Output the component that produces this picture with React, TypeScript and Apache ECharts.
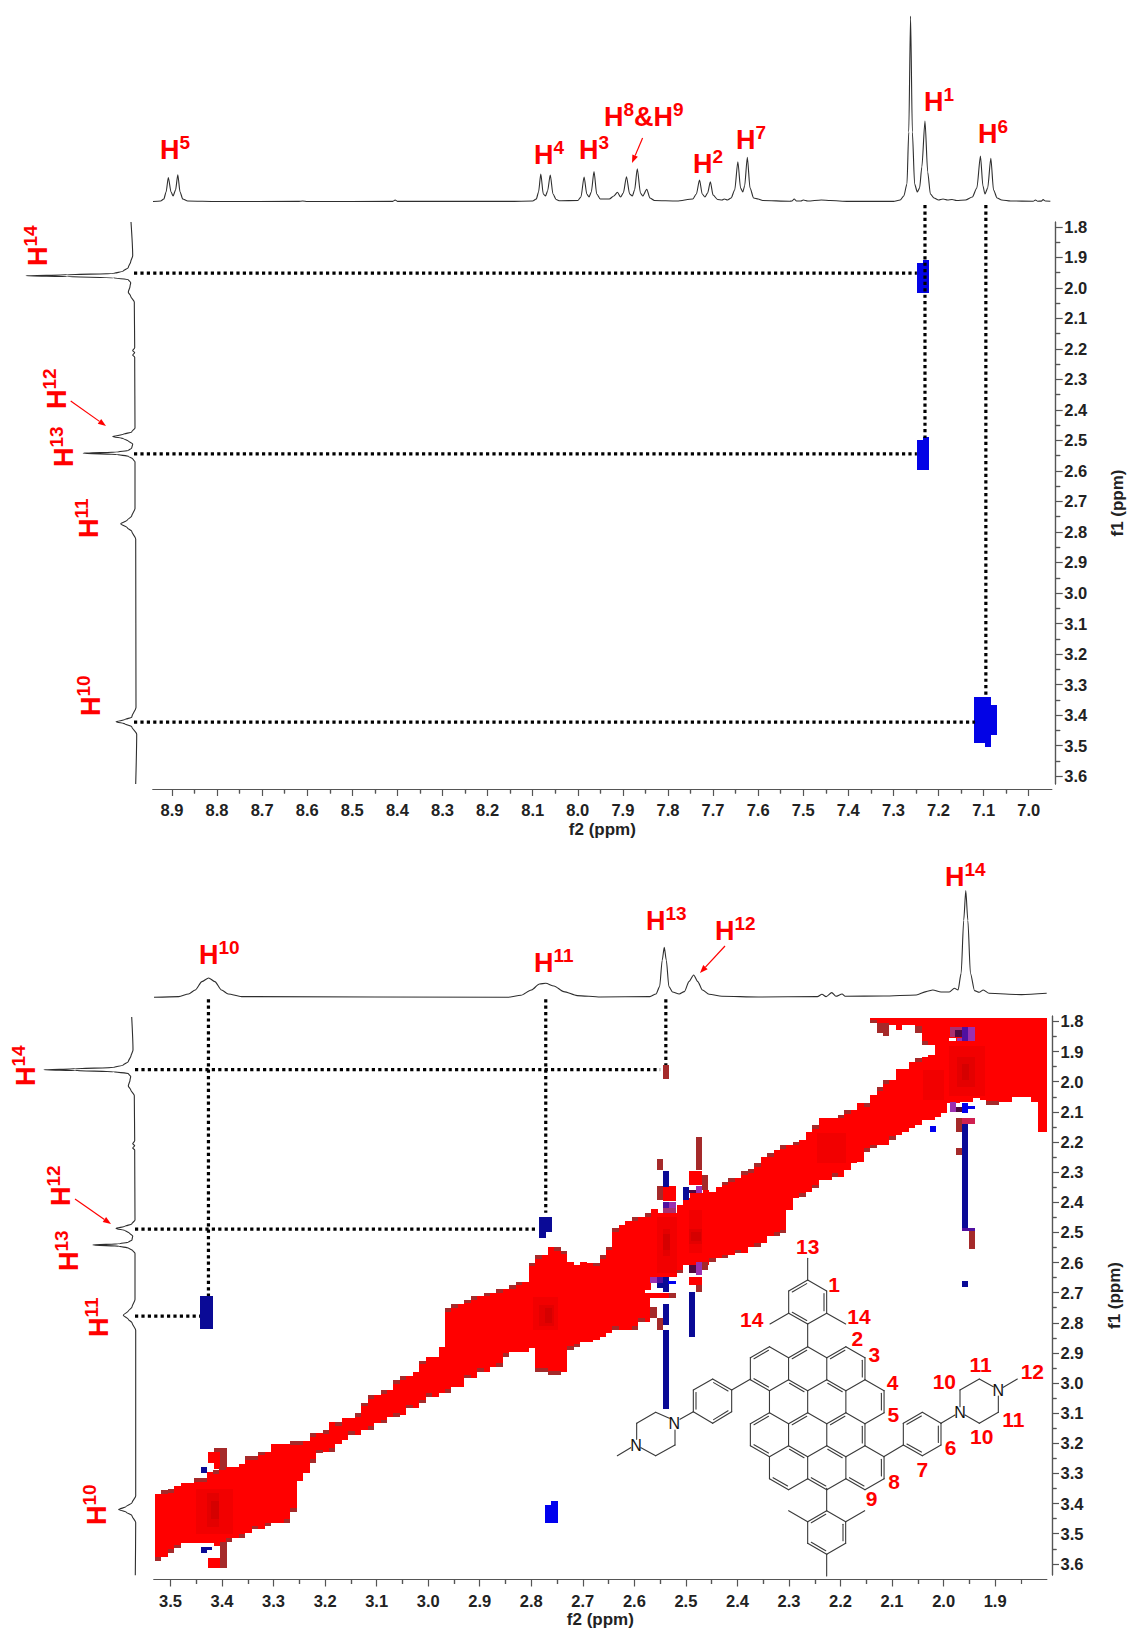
import React, { useEffect, useRef } from "react";
import * as echarts from "echarts";

// ---------- axis ticks (ppm) ----------
const topF2Ticks = [8.9, 8.8, 8.7, 8.6, 8.5, 8.4, 8.3, 8.2, 8.1, 8.0, 7.9, 7.8, 7.7, 7.6, 7.5, 7.4, 7.3, 7.2, 7.1, 7.0];
const bottomF2Ticks = [3.5, 3.4, 3.3, 3.2, 3.1, 3.0, 2.9, 2.8, 2.7, 2.6, 2.5, 2.4, 2.3, 2.2, 2.1, 2.0, 1.9];
const f1Ticks = [1.8, 1.9, 2.0, 2.1, 2.2, 2.3, 2.4, 2.5, 2.6, 2.7, 2.8, 2.9, 3.0, 3.1, 3.2, 3.3, 3.4, 3.5, 3.6];

// ---------- 1D spectra: [ppm, intensity] ----------
const topSpectrum = [
  [8.942, 0.5], [8.925, 1], [8.918, 3], [8.913, 10], [8.908, 24.5], [8.902, 10], [8.8975, 6], [8.892, 12], [8.887, 27.3], [8.882, 10], [8.876, 3], [8.865, 1],
  [8.8, 0.5], [8.62, 0.6], [8.61, 1], [8.6, 0.5], [8.41, 0.6], [8.405, 2], [8.4, 0.6], [8.15, 0.6], [8.1, 1], [8.092, 3], [8.087, 10], [8.082, 28], [8.0765, 8], [8.0715, 6], [8.067, 11], [8.061, 27], [8.055, 8], [8.048, 2.5], [8.04, 1.2],
  [8.0, 1.5], [7.993, 5], [7.986, 25], [7.98, 8], [7.975, 5], [7.97, 10], [7.964, 30.5], [7.958, 8], [7.95, 3], [7.93, 3], [7.92, 6], [7.912, 9.7], [7.905, 5], [7.899, 9], [7.892, 25.3], [7.885, 8], [7.879, 6], [7.874, 12], [7.868, 33.3], [7.861, 9], [7.856, 6], [7.847, 12.7], [7.84, 4], [7.83, 1.5],
  [7.78, 1], [7.745, 3], [7.737, 8], [7.73, 22], [7.724, 8], [7.718, 5], [7.712, 9], [7.706, 20.3], [7.7, 7], [7.69, 2.5], [7.68, 2], [7.675, 3], [7.668, 2], [7.66, 4], [7.652, 12], [7.645, 40.3], [7.639, 14], [7.634, 10], [7.63, 16], [7.624, 44.7], [7.618, 14], [7.61, 4], [7.6, 3], [7.59, 1.5],
  [7.53, 0.8], [7.525, 1], [7.52, 3], [7.515, 1], [7.505, 1], [7.5, 2], [7.49, 1], [7.46, 2], [7.44, 1.5], [7.4, 0.6], [7.3, 0.6], [7.285, 2], [7.277, 6], [7.27, 18], [7.266, 70], [7.262, 186], [7.258, 70], [7.253, 18], [7.247, 10], [7.242, 14], [7.237, 35], [7.23, 81], [7.224, 30], [7.218, 8], [7.21, 4], [7.2, 2], [7.19, 3], [7.18, 2], [7.17, 2.5], [7.16, 1.5], [7.14, 2], [7.125, 5], [7.115, 14], [7.107, 46], [7.1015, 16], [7.097, 8], [7.091, 14], [7.084, 43.7], [7.078, 12], [7.07, 4], [7.06, 2], [7.04, 1],
  [6.99, 0.8], [6.985, 2], [6.98, 0.8], [6.972, 0.9], [6.968, 2.4], [6.963, 1], [6.952, 0.7],
];
const bottomSpectrum = [
  [3.532, 0], [3.484, 0.7], [3.465, 3.3], [3.452, 7.3], [3.439, 15.7], [3.426, 19.3], [3.414, 15.7], [3.401, 7.3], [3.388, 3.3], [3.362, 0.7], [2.845, 0], [2.82, 2], [2.8, 7.3], [2.784, 13.3], [2.772, 14], [2.756, 11.3], [2.737, 5.7], [2.711, 1.7], [2.666, 0.3],
  [2.57, 0.7], [2.558, 3.3], [2.551, 10.7], [2.546, 37], [2.542, 50], [2.538, 37], [2.533, 10.7], [2.526, 5.3], [2.513, 3.3], [2.503, 5.7], [2.494, 15.7], [2.485, 22.3], [2.477, 15.7], [2.468, 7.3], [2.455, 3], [2.43, 1], [2.36, 0.3],
  [2.245, 0.7], [2.236, 3], [2.228, 0.7], [2.217, 4.7], [2.209, 1], [2.197, 3.3], [2.191, 1], [2.117, 1.3], [2.053, 2.3], [2.034, 5.7], [2.021, 7.3], [2.005, 5.3], [1.989, 5.3], [1.979, 9], [1.972, 7.3], [1.966, 24], [1.961, 77], [1.957, 106.7], [1.953, 77], [1.948, 24], [1.94, 6.7], [1.931, 5], [1.923, 7.3], [1.912, 4], [1.849, 2.7], [1.8, 4],
];
// [intensity, ppm]
const leftTopSpectrum = [
  [4, 1.784], [2.3, 1.895], [4.3, 1.914], [6.7, 1.933], [11.7, 1.945], [21.7, 1.953], [68, 1.957], [109, 1.96], [68, 1.963], [21.7, 1.967], [6.7, 1.973], [4.3, 1.983], [5, 1.995], [6.7, 2.014], [4.3, 2.027], [0.7, 2.046], [0.3, 2.196], [2.3, 2.206], [0.3, 2.212], [2.3, 2.22], [0.3, 2.227], [0.3, 2.246],
  [0, 2.459], [3.3, 2.472], [11.7, 2.48], [22.3, 2.487], [11.7, 2.494], [6.7, 2.502], [2.3, 2.512], [3.3, 2.525], [6.7, 2.533], [18, 2.538], [51.7, 2.542], [18, 2.546], [6.7, 2.552], [2.3, 2.56], [0, 2.57], [0, 2.723], [3.3, 2.748], [7.7, 2.761], [14.3, 2.773], [7.7, 2.786], [3.3, 2.798], [-0.7, 2.823], [-1, 3.375], [3.3, 3.407], [10, 3.415], [19, 3.422], [10, 3.429], [3.3, 3.438], [-1.7, 3.463], [-0.7, 3.626],
];
const leftBottomSpectrum = [
  [3.3, 1.785], [2, 1.895], [4, 1.914], [6.7, 1.933], [11.7, 1.945], [21.7, 1.953], [60, 1.957], [91, 1.96], [60, 1.963], [21.7, 1.967], [6.7, 1.973], [4.3, 1.983], [5, 1.995], [6.7, 2.014], [4.3, 2.027], [0.7, 2.046], [0.3, 2.196], [2.3, 2.206], [0.3, 2.212], [2.3, 2.22], [0.3, 2.227], [0.3, 2.246],
  [0, 2.459], [3.3, 2.472], [10, 2.48], [19, 2.487], [10, 2.494], [5.7, 2.502], [2.3, 2.512], [3, 2.525], [6.7, 2.533], [16, 2.538], [42.3, 2.542], [16, 2.546], [6.7, 2.552], [2.3, 2.56], [0, 2.57], [0, 2.723], [3, 2.748], [6.7, 2.761], [11.7, 2.775], [6.7, 2.788], [3, 2.8], [-0.7, 2.825], [-0.7, 3.375], [3, 3.397], [9, 3.41], [16.3, 3.42], [9, 3.428], [3, 3.44], [-0.7, 3.463], [-0.3, 3.638],
];

// ---------- dotted guides: [[f2, f1], [f2, f1]] ----------
const topGuides = [
  [[7.23, 1.728], [7.23, 2.492]], [[7.095, 1.728], [7.095, 3.341]],
  [[8.984, 1.951], [7.248, 1.951]], [[8.984, 2.544], [7.248, 2.544]], [[8.984, 3.423], [7.119, 3.423]],
];
const bottomGuides = [
  [[3.4265, 1.726], [3.4265, 2.711]], [[2.772, 1.726], [2.772, 2.435]], [[2.539, 1.726], [2.539, 1.944]],
  [[3.569, 1.96], [2.55, 1.96]], [[3.569, 2.489], [2.787, 2.489]], [[3.569, 2.778], [3.443, 2.778]],
];

// ---------- 2D cross peaks: [f2a, f2b, f1a, f1b] ----------
const topCrossPeaks = [
  [7.247, 7.222, 1.919, 2.017], [7.234, 7.222, 1.908, 1.92],
  [7.247, 7.222, 2.498, 2.597], [7.234, 7.222, 2.488, 2.5],
  [7.121, 7.084, 3.342, 3.491], [7.084, 7.071, 3.367, 3.466], [7.097, 7.084, 3.491, 3.504],
];
const navyCells = [
  [3.442, 3.417, 2.711, 2.822], [2.785, 2.76, 2.449, 2.5], [2.785, 2.772, 2.5, 2.52],
  [2.544, 2.532, 2.295, 2.348], [2.544, 2.532, 2.647, 2.697], [2.557, 2.545, 2.668, 2.685],
  [2.544, 2.532, 2.738, 2.807], [2.544, 2.532, 2.825, 3.085], [2.506, 2.494, 2.348, 2.392],
  [2.494, 2.482, 2.699, 2.846], [1.964, 1.952, 2.141, 2.492], [3.4405, 3.43, 3.277, 3.3],
  [3.4405, 3.43, 3.545, 3.565], [3.43, 3.42, 3.545, 3.553], [1.964, 1.952, 2.66, 2.682],
];
const brightCells = [
  [2.773, 2.748, 3.405, 3.463], [2.761, 2.748, 3.393, 3.405], [2.0265, 2.015, 2.146, 2.166],
  [1.964, 1.952, 2.07, 2.105], [1.952, 1.939, 2.08, 2.09], [2.534, 2.52, 2.66, 2.671],
];
const violetCells = [
  [1.964, 1.952, 1.817, 1.864], [1.964, 1.939, 2.484, 2.494], [2.544, 2.532, 2.398, 2.42], [2.557, 2.544, 2.647, 2.669],
];
const purpleCells = [
  [1.952, 1.939, 1.817, 1.864], [1.975, 1.964, 1.854, 1.864], [1.988, 1.976, 2.066, 2.102], [2.532, 2.52, 2.398, 2.42],
  [2.57, 2.557, 2.647, 2.669], [2.481, 2.469, 2.346, 2.37], [2.481, 2.469, 2.597, 2.641],
];
const plumCells = [
  [1.988, 1.964, 1.817, 1.853], [2.544, 2.52, 2.42, 2.437],
];
const darkPlumCells = [
  [1.978, 1.964, 1.828, 1.853], [1.976, 1.964, 2.083, 2.102], [2.494, 2.481, 2.359, 2.37], [2.494, 2.481, 2.608, 2.636],
];
const crimsonCells = [[1.964, 1.939, 2.121, 2.141]];
const brownCells = [
  [2.544, 2.532, 1.945, 1.99], [1.976, 1.964, 2.121, 2.166], [1.976, 1.964, 2.221, 2.243], [1.951, 1.939, 2.494, 2.556],
  [2.557, 2.545, 2.257, 2.293], [2.557, 2.545, 2.346, 2.392], [2.481, 2.469, 2.182, 2.293], [2.469, 2.458, 2.31, 2.36],
  [2.481, 2.469, 2.675, 2.697], [2.469, 2.458, 2.597, 2.625], [2.57, 2.557, 2.747, 2.785], [2.557, 2.545, 2.785, 2.824],
  [2.532, 2.52, 2.702, 2.719], [3.415, 3.39, 3.217, 3.228], [3.403, 3.39, 3.228, 3.277], [3.403, 3.39, 3.526, 3.615],
];
const extraRedCells = [
  [2.545, 2.52, 2.346, 2.395], [2.494, 2.469, 2.295, 2.343], [2.494, 2.469, 2.649, 2.675], [2.581, 2.52, 2.702, 2.719], [2.581, 2.57, 2.719, 2.796],
  [3.428, 3.403, 3.228, 3.264], [3.415, 3.403, 3.264, 3.285], [3.428, 3.403, 3.582, 3.615], [3.415, 3.403, 3.526, 3.54],
];
const holeCells = [[1.99, 1.976, 1.854, 1.864]];
// darker zones of the diagonal, from wide to narrow
const diagShadeOuter = [
  [1.99, 1.92, 1.881, 2.047], [2.04, 2.0, 1.96, 2.06], [2.245, 2.19, 2.17, 2.27], [2.557, 2.518, 2.448, 2.635], [2.494, 2.469, 2.425, 2.57], [2.797, 2.748, 2.714, 2.825], [3.451, 3.379, 3.35, 3.5],
];
const diagShadeMiddle = [
  [1.975, 1.94, 1.917, 2.017], [2.544, 2.53, 2.49, 2.58], [2.494, 2.469, 2.49, 2.54], [2.785, 2.755, 2.74, 2.81], [3.43, 3.405, 3.365, 3.478],
];
const diagShadeInner = [
  [1.965, 1.951, 1.94, 1.994], [2.544, 2.53, 2.505, 2.56], [2.49, 2.47, 2.5, 2.53], [2.773, 2.76, 2.75, 2.8], [3.422, 3.405, 3.39, 3.45],
];

// diagonal band: one value per f2 column, starting at diagF2Start, each column diagF2Step wide
const diagF2Start = 3.53;
const diagF2Step = 0.0125;
const diagTop = [
  3.368, 3.355, 3.353, 3.342, 3.331, 3.331, 3.316, 3.316, 3.296, 3.289, 3.277, 3.277, 3.277, 3.269, 3.242, 3.242, 3.228, 3.228, 3.202, 3.202,
  3.202, 3.192, 3.192, 3.192, 3.167, 3.167, 3.156, 3.13, 3.13, 3.117, 3.117, 3.1, 3.065, 3.04, 3.04, 3.023, 3.023, 2.99, 2.977, 2.977,
  2.964, 2.926, 2.913, 2.913, 2.879, 2.752, 2.739, 2.739, 2.724, 2.711, 2.711, 2.7, 2.7, 2.689, 2.689, 2.675, 2.664, 2.664, 2.6, 2.575,
  2.575, 2.55, 2.55, 2.561, 2.597, 2.608, 2.597, 2.6, 2.6, 2.575, 2.547, 2.487, 2.476, 2.461, 2.45, 2.45, 2.437, 2.424, 2.435, 2.437,
  2.437, 2.409, 2.387, 2.37, 2.37, 2.359, 2.365, 2.348, 2.332, 2.321, 2.321, 2.298, 2.291, 2.271, 2.249, 2.238, 2.227, 2.21, 2.21, 2.199,
  2.193, 2.166, 2.144, 2.121, 2.121, 2.121, 2.11, 2.094, 2.094, 2.072, 2.072, 2.044, 2.018, 1.994, 1.994, 1.959, 1.959, 1.933, 1.922, 1.917,
  1.911, 1.79, 1.79, 1.79, 1.79, 1.79, 1.79, 1.79, 1.79, 1.79, 1.79, 1.79, 1.79, 1.79, 1.79, 1.79, 1.79, 1.79, 1.79,
];
const diagBottom = [
  3.589, 3.576, 3.563, 3.549, 3.53, 3.53, 3.53, 3.53, 3.53, 3.53, 3.53, 3.526, 3.513, 3.513, 3.499, 3.486, 3.486, 3.475, 3.463, 3.463,
  3.463, 3.427, 3.324, 3.3, 3.264, 3.233, 3.228, 3.228, 3.202, 3.189, 3.172, 3.172, 3.156, 3.156, 3.134, 3.134, 3.112, 3.112, 3.106, 3.084,
  3.084, 3.067, 3.045, 3.045, 3.032, 3.032, 3.012, 3.012, 2.984, 2.984, 2.962, 2.962, 2.946, 2.946, 2.912, 2.896, 2.896, 2.896, 2.885, 2.962,
  2.962, 2.973, 2.973, 2.962, 2.89, 2.881, 2.863, 2.863, 2.857, 2.846, 2.835, 2.824, 2.824, 2.824, 2.824, 2.796, 2.691, 2.647, 2.647, 2.647,
  2.647, 2.636, 2.608, 2.608, 2.608, 2.608, 2.597, 2.586, 2.586, 2.575, 2.57, 2.57, 2.547, 2.547, 2.536, 2.512, 2.512, 2.503, 2.426, 2.387,
  2.381, 2.365, 2.354, 2.326, 2.326, 2.315, 2.315, 2.293, 2.271, 2.265, 2.232, 2.221, 2.21, 2.21, 2.193, 2.177, 2.166, 2.155, 2.144, 2.127,
  2.127, 2.116, 2.105, 2.072, 2.072, 2.066, 2.066, 2.055, 2.06, 2.077, 2.077, 2.066, 2.066, 2.05, 2.05, 2.05, 2.066, 2.168, 2.168,
];
// upper band near the right corner: [column index, lower f1]
const diagUpperBand = [[111, 1.806], [112, 1.839], [113, 1.85], [114, 1.812], [115, 1.828], [116, 1.812], [117, 1.812], [118, 1.839], [119, 1.878], [120, 1.878]];
const diagBrownTop = [1, 2, 6, 7, 9, 10, 14, 15, 16, 21, 22, 24, 26, 28, 31, 32, 33, 35, 37, 38, 41, 45, 46, 48, 49, 51, 53, 55, 56, 58, 59, 62, 63, 68, 69, 70, 71, 74, 76, 88, 89, 91, 92, 93, 95, 97, 99, 102, 106, 107, 110, 112, 113, 118];
const diagBrownBottom = [0, 2, 3, 11, 13, 15, 17, 20, 21, 24, 25, 27, 30, 33, 35, 37, 39, 41, 42, 45, 48, 50, 53, 54, 59, 60, 61, 62, 64, 65, 71, 74, 75, 81, 86, 88, 90, 93, 96, 97, 100, 102, 105, 110, 111, 114, 129, 130];
const diagBrownUpperBand = [[111, 1.795, 1.806], [112, 1.806, 1.839], [113, 1.806, 1.85], [118, 1.815, 1.839], [119, 1.865, 1.878]];

// ---------- labels ----------
const topLabels = [["5", 160, 158], ["4", 534, 163], ["3", 579, 158], ["2", 693, 172], ["7", 736, 148], ["1", 924, 110], ["6", 978, 142]];
const leftTopLabels = [["14", 46, 266], ["12", 65, 409], ["13", 72, 467], ["11", 97, 538], ["10", 99, 716]];
const bottomLabels = [["10", 199, 963], ["11", 534, 971], ["13", 646, 929], ["12", 715, 939], ["14", 945, 885]];
const leftBottomLabels = [["14", 34, 1086], ["12", 69, 1206], ["13", 77, 1271], ["11", 107, 1337], ["10", 105, 1525]];
const arrows = [
  [642.6, 138, 632, 163], [70.7, 401, 106, 426], [725, 946, 700, 973], [75, 1199, 111, 1224],
];
const atomNumbers = [
  ["13", 743, 200], ["1", 822, 312], ["14", 575, 418], ["14", 897, 410], ["2", 892, 475], ["3", 943, 522], ["4", 998, 607], ["5", 1000, 703],
  ["6", 1172, 803], ["7", 1087, 868], ["8", 1002, 905], ["9", 935, 955], ["10", 1153, 603], ["11", 1262, 553], ["12", 1417, 573], ["11", 1360, 717], ["10", 1265, 768],
];
const nitrogens = [[343, 730], [228, 795], [1200, 697], [1315, 630]];

const ringCenters = [[-2, 2], [0, 2], [2, 2], [-1, 5], [1, 5], [3, 5], [-2, 8], [0, 8], [2, 8], [-1, 11], [1, 11], [3, 11]];
const coreDoubles = [
  [-3, 1, -2, 0, -2, 2], [-1, 1, 0, 0, 0, 2], [1, 1, 2, 0, 2, 2], [3, 1, 3, 3, 2, 2], [-1, 3, 0, 4, -1, 5], [1, 3, 2, 4, 1, 5], [-3, 3, -2, 4, -2, 2],
  [4, 4, 4, 6, 3, 5], [-2, 6, -3, 7, -2, 8], [-1, 7, 0, 6, 0, 8], [1, 7, 2, 6, 2, 8], [3, 7, 3, 9, 2, 8], [-1, 9, 0, 10, -1, 11], [1, 9, 2, 10, 1, 11],
  [-3, 9, -2, 10, -2, 8], [-2, 12, -1, 13, -1, 11], [0, 12, 1, 13, 1, 11], [2, 12, 3, 13, 3, 11], [4, 10, 4, 12, 3, 11],
];
const sideRings = [
  { v: [[743, 432], [800, 400], [800, 333], [743, 300], [686, 333], [686, 400]], d: [1, 3, 5] },
  { v: [[800, 992], [857, 1025], [857, 1090], [800, 1123], [743, 1090], [743, 1025]], d: [1, 3, 5] },
  { v: [[515, 630], [515, 695], [458, 730], [400, 695], [400, 630], [458, 597]], d: [1, 3, 5] },
  { v: [[1030, 795], [1087, 827], [1143, 795], [1143, 730], [1087, 697], [1030, 730]], d: [0, 2, 4] },
];
const singleBonds = [
  [743, 500, 743, 432], [743, 300, 743, 235], [686, 400, 630, 432], [800, 400, 857, 432],
  [800, 925, 800, 992], [800, 1123, 800, 1188], [743, 1025, 686, 992], [857, 1025, 914, 992],
  [572, 597, 515, 630], [400, 695, 360, 718], [328, 715, 287, 697], [287, 697, 230, 730], [230, 730, 230, 778], [243, 803, 287, 827], [287, 827, 345, 795], [345, 795, 345, 750], [212, 803, 172, 827],
  [971, 830, 1030, 795], [1143, 730, 1185, 705], [1200, 680, 1200, 630], [1200, 630, 1258, 597], [1258, 597, 1300, 620], [1315, 648, 1315, 697], [1315, 697, 1258, 730], [1258, 730, 1215, 705], [1330, 622, 1372, 597],
];

const FONT = "Liberation Sans";
const RED = "#ff0000";

function rectSeries(rects: number[][], color: string, axis: number, z: number) {
  return {
    type: "custom", xAxisIndex: axis, yAxisIndex: axis, z, clip: true, silent: true, data: rects,
    encode: { x: [0, 1], y: [2, 3] },
    renderItem: (_: any, api: any) => {
      const a = api.coord([api.value(0), api.value(2)]);
      const b = api.coord([api.value(1), api.value(3)]);
      const x = Math.round(a[0]), y = Math.round(a[1]);
      return { type: "rect", shape: { x, y, width: Math.round(b[0]) - x, height: Math.round(b[1]) - y }, style: { fill: color } };
    },
  };
}
function lineSeries(data: number[][], axis: number, mono: string) {
  return {
    type: "line", xAxisIndex: axis, yAxisIndex: axis, data, showSymbol: false, symbol: "none", silent: true, clip: false, z: 3,
    smooth: 0.25, smoothMonotone: mono, lineStyle: { color: "#2e2e2e", width: 1.1 },
  };
}
function guideSeries(g: number[][], axis: number) {
  return {
    type: "line", xAxisIndex: axis, yAxisIndex: axis, data: g, showSymbol: false, symbol: "none", silent: true, clip: false, z: 8,
    lineStyle: { color: "#000", width: 3.2, type: [3.2, 3.2] },
  };
}

const axisStyle = { color: "#555", width: 1.2 };
function hiddenAxis(grid: number, min: number, max: number, inverse = false) {
  return { type: "value", show: false, gridIndex: grid, min, max, inverse, splitLine: { show: false } };
}
function tickAxis(grid: number, min: number, max: number, pos: string, offset: number, ticks: number[], isMinor: boolean, name: string, gap: number) {
  const isY = pos === "right";
  return {
    type: "value", gridIndex: grid, min, max, inverse: true, position: pos, offset,
    axisLine: { show: true, onZero: false, lineStyle: axisStyle },
    axisTick: { show: true, length: isMinor ? 4.5 : 7, customValues: ticks, lineStyle: axisStyle },
    axisLabel: isMinor ? { show: false } : {
      show: true, customValues: ticks, margin: isY ? 8.5 : 12.5, formatter: (v: number) => v.toFixed(1),
      color: "#222", fontFamily: FONT, fontSize: 16.5, fontWeight: "bold",
    },
    splitLine: { show: false },
    name: isMinor ? "" : name, nameLocation: "middle", nameGap: gap, nameRotate: isY ? 90 : 0, nameMoveOverlap: false,
    nameTextStyle: { color: "#222", fontFamily: FONT, fontSize: 17, fontWeight: "bold", verticalAlign: "middle" },
  };
}
const minorsOf = (ticks: number[], lo: number, hi: number) =>
  ticks.map((v) => v + 0.05).concat(ticks.map((v) => v - 0.05)).filter((v) => v > lo && v < hi);

function buildDiagonal() {
  const f2 = (k: number) => diagF2Start - k * diagF2Step;
  const red: number[][] = diagTop.map((t, k) => [f2(k), f2(k + 1), t, diagBottom[k]]);
  diagUpperBand.forEach(([k, b]) => red.push([f2(k), f2(k + 1), 1.79, b]));
  const brown: number[][] = [];
  diagBrownTop.forEach((k) => brown.push([f2(k), f2(k + 1), diagTop[k], diagTop[k] + 0.012]));
  diagBrownBottom.forEach((k) => brown.push([f2(k), f2(k + 1), diagBottom[k] - 0.012, diagBottom[k]]));
  diagBrownUpperBand.forEach(([k, a, b]) => brown.push([f2(k), f2(k + 1), a, b]));
  return { red, brown };
}

function hLabelText(sup: string) {
  return `{h|H}{s|${sup}}`;
}
const labelRich = {
  h: { fontSize: 27, fontWeight: "bold", fontFamily: FONT, fill: RED, lineHeight: 30, verticalAlign: "bottom" },
  s: { fontSize: 19, fontWeight: "bold", fontFamily: FONT, fill: RED, verticalAlign: "top" },
};
function hLabel(text: string, x: number, y: number, rotated: boolean) {
  return {
    type: "text", silent: true, z: 50,
    x: rotated ? x + 5 : x, y: rotated ? y : y + 5, rotation: rotated ? Math.PI / 2 : 0,
    style: { text, rich: labelRich, x: 0, y: 0, align: "left", verticalAlign: "bottom" },
  };
}
function arrowEls(x1: number, y1: number, x2: number, y2: number) {
  const a = Math.atan2(y2 - y1, x2 - x1), s = 8, w = 3;
  const bx = x2 - s * Math.cos(a), by = y2 - s * Math.sin(a);
  return [
    { type: "line", silent: true, z: 50, shape: { x1, y1, x2: bx, y2: by }, style: { stroke: RED, lineWidth: 1.2 } },
    { type: "polygon", silent: true, z: 50, shape: { points: [[x2, y2], [bx + w * Math.sin(a), by - w * Math.cos(a)], [bx - w * Math.sin(a), by + w * Math.cos(a)]] }, style: { fill: RED } },
  ];
}
function moleculeEls() {
  const P = (X: number, Y: number) => [560 + X / 3, 1180 + Y / 3];
  const L = (i: number, j: number) => [743 + 57.3 * i, 500 + 33 * j];
  const out: any[] = [];
  const bond = (a: number[], b: number[]) => {
    const p = P(a[0], a[1]), q = P(b[0], b[1]);
    out.push({ type: "line", silent: true, z: 40, shape: { x1: p[0], y1: p[1], x2: q[0], y2: q[1] }, style: { stroke: "#3a3a3a", lineWidth: 1.1, lineCap: "round" } });
  };
  const inner = (a: number[], b: number[], c: number[]) => {
    const m = [(a[0] + b[0]) / 2, (a[1] + b[1]) / 2];
    const d = Math.hypot(c[0] - m[0], c[1] - m[1]);
    const ox = ((c[0] - m[0]) / d) * 8, oy = ((c[1] - m[1]) / d) * 8;
    const sh = (p: number[], q: number[]) => [p[0] + (q[0] - p[0]) * 0.12 + ox, p[1] + (q[1] - p[1]) * 0.12 + oy];
    bond(sh(a, b), sh(b, a));
  };
  const seen = new Set<string>();
  ringCenters.forEach(([ci, cj]) => {
    const v = [[ci, cj - 2], [ci + 1, cj - 1], [ci + 1, cj + 1], [ci, cj + 2], [ci - 1, cj + 1], [ci - 1, cj - 1]];
    v.forEach((p, n) => {
      const q = v[(n + 1) % 6];
      const key = [p.join(","), q.join(",")].sort().join("|");
      if (!seen.has(key)) { seen.add(key); bond(L(p[0], p[1]), L(q[0], q[1])); }
    });
  });
  coreDoubles.forEach(([a, b, c, d, e, f]) => inner(L(a, b), L(c, d), L(e, f)));
  sideRings.forEach(({ v, d }) => {
    const c = [v.reduce((s, p) => s + p[0], 0) / 6, v.reduce((s, p) => s + p[1], 0) / 6];
    v.forEach((p, n) => bond(p, v[(n + 1) % 6]));
    d.forEach((n) => inner(v[n], v[(n + 1) % 6], c));
  });
  singleBonds.forEach(([a, b, c, d]) => bond([a, b], [c, d]));
  nitrogens.forEach(([X, Y]) => {
    const p = P(X, Y);
    out.push({ type: "text", silent: true, z: 41, x: p[0], y: p[1], style: { text: "N", x: 0, y: 0, align: "center", verticalAlign: "middle", fontFamily: FONT, fontSize: 16, fill: "#111" } });
  });
  atomNumbers.forEach(([t, X, Y]) => {
    const p = P(X as number, Y as number);
    out.push({ type: "text", silent: true, z: 41, x: p[0], y: p[1], style: { text: t, x: 0, y: 0, align: "center", verticalAlign: "middle", fontFamily: FONT, fontSize: 21, fontWeight: "bold", fill: RED } });
  });
  return out;
}

export default function App() {
  const ref = useRef<HTMLDivElement>(null);
  useEffect(() => {
    document.body.style.margin = "0";
    document.body.style.background = "#fff";
    const chart = echarts.init(ref.current!, undefined, { renderer: "svg" });
    const { red, brown } = buildDiagonal();
    const topX: [number, number] = [6.949, 8.942];
    const topY: [number, number] = [1.784, 3.626];
    const botX: [number, number] = [1.8, 3.532];
    const botY: [number, number] = [1.782, 3.637];

    const graphicEls: any[] = [
      ...topLabels.map(([s, x, y]) => hLabel(hLabelText(s as string), x as number, y as number, false)),
      hLabel("{h|H}{s|8}{h|&H}{s|9}", 604, 125, false),
      ...leftTopLabels.map(([s, x, y]) => hLabel(hLabelText(s as string), x as number, y as number, true)),
      ...bottomLabels.map(([s, x, y]) => hLabel(hLabelText(s as string), x as number, y as number, false)),
      ...leftBottomLabels.map(([s, x, y]) => hLabel(hLabelText(s as string), x as number, y as number, true)),
      ...arrows.flatMap(([a, b, c, d]) => arrowEls(a, b, c, d)),
      ...moleculeEls(),
    ];

    const gridBase = { outerBoundsMode: "none", containLabel: false };
    chart.setOption({
      animation: false,
      backgroundColor: "#fff",
      grid: [
        { ...gridBase, left: 153, top: 222, width: 898.7, height: 562 },
        { ...gridBase, left: 153, top: 10, width: 898.7, height: 195 },
        { ...gridBase, left: 20, top: 222, width: 120, height: 562 },
        { ...gridBase, left: 154, top: 1016, width: 892.7, height: 559 },
        { ...gridBase, left: 154, top: 880, width: 892.7, height: 120 },
        { ...gridBase, left: 20, top: 1016, width: 120, height: 559 },
        // wider frames for the dotted guides, on the same ppm scales as the 2D plots
        { ...gridBase, left: 134, top: 205, width: 917.7, height: 579 },
        { ...gridBase, left: 135, top: 999, width: 911.7, height: 576 },
      ],
      xAxis: [
        tickAxis(0, topX[0], topX[1], "bottom", 5, topF2Ticks, false, "f2 (ppm)", 40),
        tickAxis(0, topX[0], topX[1], "bottom", 5, minorsOf(topF2Ticks, 6.95, 8.94), true, "", 0),
        hiddenAxis(1, topX[0], topX[1], true),
        hiddenAxis(2, -5, 115, true),
        tickAxis(3, botX[0], botX[1], "bottom", 4.5, bottomF2Ticks, false, "f2 (ppm)", 40),
        tickAxis(3, botX[0], botX[1], "bottom", 4.5, minorsOf(bottomF2Ticks, 1.8, 3.53), true, "", 0),
        hiddenAxis(4, botX[0], botX[1], true),
        hiddenAxis(5, -5, 115, true),
        hiddenAxis(6, 6.949, 8.984, true),
        hiddenAxis(7, 1.8, 3.569, true),
      ],
      yAxis: [
        tickAxis(0, topY[0], topY[1], "right", 4, f1Ticks, false, "f1 (ppm)", 62),
        tickAxis(0, topY[0], topY[1], "right", 4, minorsOf(f1Ticks, 1.79, 3.62), true, "", 0),
        hiddenAxis(1, -3, 192),
        hiddenAxis(2, topY[0], topY[1], true),
        tickAxis(3, botY[0], botY[1], "right", 5.3, f1Ticks, false, "f1 (ppm)", 62),
        tickAxis(3, botY[0], botY[1], "right", 5.3, minorsOf(f1Ticks, 1.79, 3.63), true, "", 0),
        hiddenAxis(4, -2.7, 117.3),
        hiddenAxis(5, botY[0], botY[1], true),
        hiddenAxis(6, 1.7279, 3.626, true),
        hiddenAxis(7, 1.7253, 3.637, true),
      ],
      series: [
        lineSeries(topSpectrum, 2, "x"),
        lineSeries(bottomSpectrum, 6, "x"),
        lineSeries(leftTopSpectrum, 3, "y"),
        lineSeries(leftBottomSpectrum, 7, "y"),
        rectSeries(topCrossPeaks, "#0303e6", 0, 5),
        ...topGuides.map((g) => guideSeries(g, 8)),
        rectSeries(red, RED, 4, 2),
        rectSeries(extraRedCells, RED, 4, 2),
        rectSeries(brown, "#a52a2a", 4, 3),
        rectSeries(brownCells, "#a52a2a", 4, 3),
        rectSeries(diagShadeOuter, "rgba(130,0,0,0.1)", 4, 4),
        rectSeries(diagShadeMiddle, "rgba(130,0,0,0.12)", 4, 4),
        rectSeries(diagShadeInner, "rgba(130,0,0,0.14)", 4, 4),
        rectSeries(holeCells, "#fff", 4, 5),
        rectSeries(navyCells, "#0a0a96", 4, 5),
        rectSeries(brightCells, "#0000ee", 4, 5),
        rectSeries(violetCells, "#5010a0", 4, 5),
        rectSeries(purpleCells, "#9a30b0", 4, 5),
        rectSeries(plumCells, "#a83070", 4, 5),
        rectSeries(darkPlumCells, "#500840", 4, 5),
        rectSeries(crimsonCells, "#d02050", 4, 5),
        ...bottomGuides.map((g) => guideSeries(g, 9)),
      ],
      graphic: { elements: graphicEls },
    });
    return () => chart.dispose();
  }, []);
  return <div ref={ref} style={{ width: 1132, height: 1631 }} />;
}
